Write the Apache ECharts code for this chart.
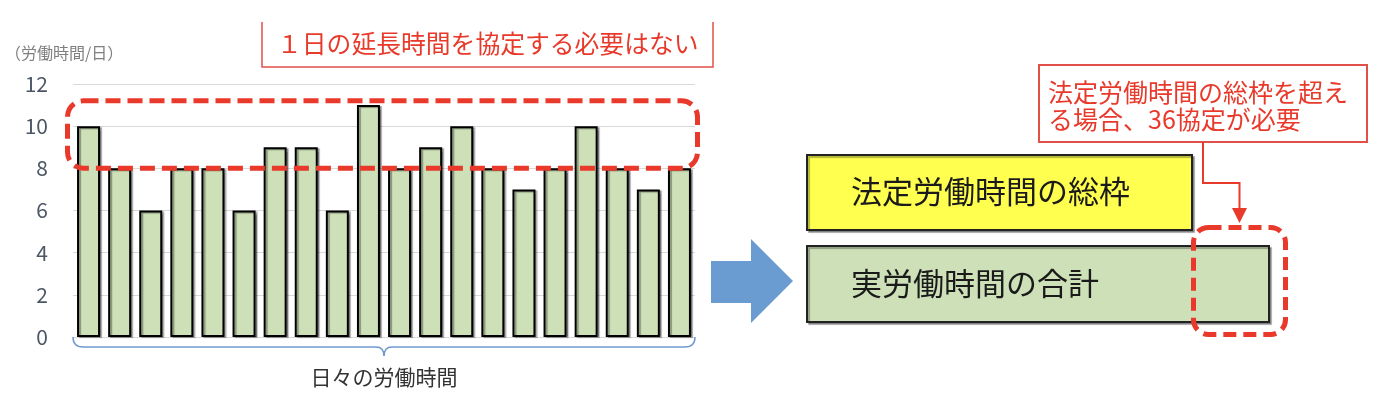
<!DOCTYPE html>
<html>
<head>
<meta charset="utf-8">
<script src="https://cdn.jsdelivr.net/npm/echarts@6/dist/echarts.min.js"></script>
<style>
html, body { margin: 0; padding: 0; background: #fff; }
#myChart1 { width: 1384px; height: 402px; }
</style>
</head>
<body>
<div id="myChart1"></div>
<script>
// 日々の労働時間 (20日分)
var days = ['1', '2', '3', '4', '5', '6', '7', '8', '9', '10',
    '11', '12', '13', '14', '15', '16', '17', '18', '19', '20'];
var hours = [10, 8, 6, 8, 8, 6, 9, 9, 6, 11, 8, 9, 10, 8, 7, 8, 10, 8, 7, 8];
var yMin = 0, yMax = 12, yStep = 2;
// 点線枠で囲む範囲 (時間)
var boxFrom = 8, boxTo = 11.2;

var FONT = 'Noto Sans CJK JP';
var RED = '#e8392b';
var GREEN = '#cde0b8';

var gridLeft = 73, gridRight = 689, gridTop = 84, gridBottom = 65;

var myChart = echarts.init(document.getElementById('myChart1'));
var option = {
    animation: false,
    textStyle: { fontFamily: FONT },
    grid: { left: gridLeft, right: gridRight, top: gridTop, bottom: gridBottom },
    xAxis: {
        type: 'category',
        data: days,
        axisLine: { show: false },
        axisTick: { show: false },
        axisLabel: { show: false }
    },
    yAxis: {
        type: 'value',
        min: yMin,
        max: yMax,
        interval: yStep,
        axisLine: { show: false },
        axisTick: { show: false },
        axisLabel: { fontSize: 21, color: '#4c5665', margin: 25, fontFamily: FONT },
        splitLine: { lineStyle: { color: '#d9d9d9', width: 1 } }
    },
    series: [{
        type: 'bar',
        data: hours,
        barWidth: 23,
        itemStyle: {
            color: GREEN,
            borderColor: '#000',
            borderWidth: 2,
            shadowColor: 'rgba(0,0,0,0.35)',
            shadowOffsetX: 2,
            shadowOffsetY: 1,
            shadowBlur: 1
        }
    }]
};
myChart.setOption(option);

// 注記・図解 (グリッドから位置を取る)
var pTop = myChart.convertToPixel({ gridIndex: 0 }, [0, boxTo])[1];
var pBot = myChart.convertToPixel({ gridIndex: 0 }, [0, boxFrom])[1];
var pZero = myChart.convertToPixel({ gridIndex: 0 }, [0, yMin])[1];
var xL = gridLeft, xR = 1384 - gridRight, xM = (xL + xR) / 2;
var braceY = pZero + 10;

var braceStyle = { stroke: '#6f9bd1', lineWidth: 1.5, fill: null };
function bz(x1, y1, cx, cy, x2, y2) {
    return { type: 'bezierCurve', shape: { x1: x1, y1: y1, cpx1: cx, cpy1: cy, x2: x2, y2: y2 }, style: braceStyle };
}
function ln(x1, y1, x2, y2) {
    return { type: 'line', shape: { x1: x1, y1: y1, x2: x2, y2: y2 }, style: braceStyle };
}

var graphics = [
    // y軸の単位
    { type: 'text', x: 5, y: 53, style: { text: '（労働時間/日）', fill: '#7f7f7f', font: '16px "' + FONT + '"', verticalAlign: 'middle' } },
    // 上の見出し (上辺なし)
    { type: 'polyline', shape: { points: [[262, 22], [262, 67], [713, 67], [713, 22]] }, style: { stroke: '#e2504a', lineWidth: 1.5, fill: null } },
    { type: 'text', x: 277, y: 44, style: { text: '１日の延長時間を協定する必要はない', fill: RED, font: '24.8px "' + FONT + '"', verticalAlign: 'middle' } },
    // 8時間超の点線枠
    { type: 'rect', z: 100, shape: { x: xL - 5.5, y: pTop, width: xR - xL + 8, height: pBot - pTop, r: 16 },
      style: { fill: null, stroke: RED, lineWidth: 5, lineDash: [15, 7] } },
    // 中括弧
    bz(xL, pZero, xL, braceY, xL + 10, braceY),
    ln(xL + 10, braceY, xM - 8, braceY),
    bz(xM - 8, braceY, xM, braceY, xM, braceY + 9),
    bz(xM, braceY + 9, xM, braceY, xM + 8, braceY),
    ln(xM + 8, braceY, xR - 10, braceY),
    bz(xR - 10, braceY, xR, braceY, xR, pZero),
    { type: 'text', x: xM, y: 377, style: { text: '日々の労働時間', fill: '#333', font: '21px "' + FONT + '"', align: 'center', verticalAlign: 'middle' } },

    // 矢印
    { type: 'polygon', shape: { points: [[711, 261], [751, 261], [751, 239], [793, 281], [751, 323], [751, 303], [711, 303]] },
      style: { fill: '#6a9bd1' } },
    // 法定労働時間の総枠
    { type: 'rect', shape: { x: 807, y: 155, width: 385, height: 75 },
      style: { fill: '#ffff4f', stroke: '#222', lineWidth: 2, shadowColor: 'rgba(0,0,0,0.3)', shadowOffsetX: 2, shadowOffsetY: 2, shadowBlur: 1 } },
    { type: 'text', x: 851, y: 191, style: { text: '法定労働時間の総枠', fill: '#1a1a1a', font: '31px "' + FONT + '"', verticalAlign: 'middle' } },
    // 実労働時間の合計
    { type: 'rect', shape: { x: 807, y: 246, width: 462, height: 76 },
      style: { fill: GREEN, stroke: '#222', lineWidth: 2, shadowColor: 'rgba(0,0,0,0.3)', shadowOffsetX: 2, shadowOffsetY: 2, shadowBlur: 1 } },
    { type: 'text', x: 851, y: 283, style: { text: '実労働時間の合計', fill: '#1a1a1a', font: '31px "' + FONT + '"', verticalAlign: 'middle' } },
    // 超過部分の点線枠
    { type: 'rect', z: 100, shape: { x: 1193.5, y: 227.5, width: 92, height: 107, r: 15 },
      style: { fill: null, stroke: RED, lineWidth: 5, lineDash: [13, 7] } },
    // 注記ボックス
    { type: 'rect', shape: { x: 1039, y: 65, width: 328, height: 77 }, style: { fill: '#fff', stroke: '#e2504a', lineWidth: 2 } },
    { type: 'text', x: 1048, y: 92, style: { text: '法定労働時間の総枠を超え', fill: RED, font: '25px "' + FONT + '"', verticalAlign: 'middle' } },
    { type: 'text', x: 1048, y: 119, style: { text: 'る場合、36協定が必要', fill: RED, font: '25px "' + FONT + '"', verticalAlign: 'middle' } },
    { type: 'polyline', shape: { points: [[1203, 142], [1203, 183], [1239.5, 183], [1239.5, 210]] }, style: { stroke: RED, lineWidth: 2, fill: null } },
    { type: 'polygon', shape: { points: [[1232, 208], [1247, 208], [1239.5, 223]] }, style: { fill: RED } }
];

myChart.setOption({ graphic: graphics });
</script>
</body>
</html>
